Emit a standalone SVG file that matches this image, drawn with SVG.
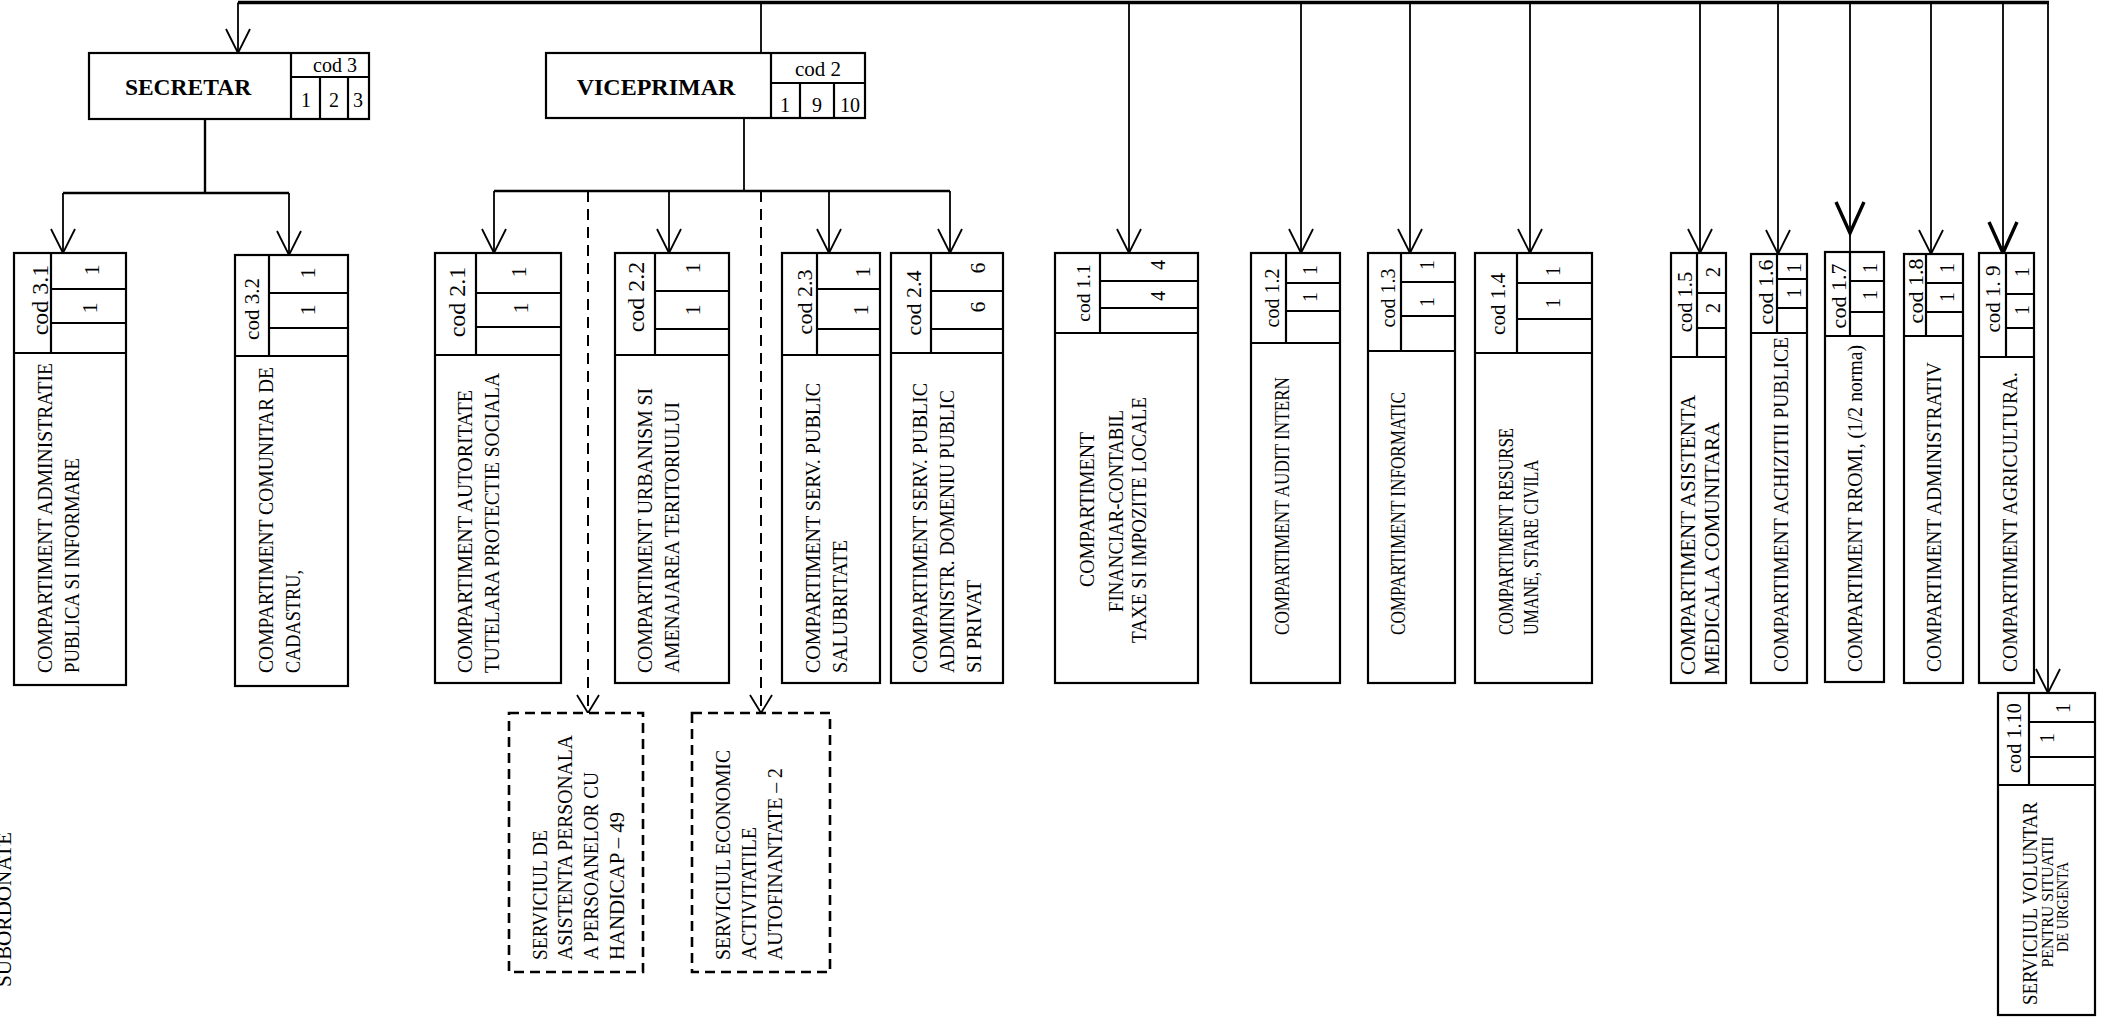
<svg xmlns="http://www.w3.org/2000/svg" width="2101" height="1033" viewBox="0 0 2101 1033">
<style>
.b{fill:#fff;stroke:#000;stroke-width:2.2}
.bd{fill:#fff;stroke:#000;stroke-width:2.6;stroke-dasharray:10 6}
.c{fill:none;stroke:#000;stroke-width:1.8}
.top{fill:none;stroke:#000;stroke-width:3.5}
.d{fill:none;stroke:#000;stroke-width:2;stroke-dasharray:11 7}
text{font-family:"Liberation Serif","Times New Roman",serif;fill:#000}
.t{font-size:21.5px}
.m{text-anchor:middle}
.h{font-weight:bold}
</style>
<defs>
<marker id="a" markerUnits="userSpaceOnUse" viewBox="-3 -3 30 30" markerWidth="30" markerHeight="30" refX="24" refY="12" orient="auto"><path d="M0,0 L24,12 L0,24" fill="none" stroke="#000" stroke-width="1.8"/></marker>
<marker id="ah" markerUnits="userSpaceOnUse" viewBox="-4 -4 40 36" markerWidth="40" markerHeight="36" refX="31" refY="14" orient="auto"><path d="M0,0 L31,14 L0,28" fill="none" stroke="#000" stroke-width="3.4"/></marker>
<marker id="ad" markerUnits="userSpaceOnUse" viewBox="-3 -3 24 28" markerWidth="24" markerHeight="28" refX="18" refY="11" orient="auto"><path d="M0,0 L18,11 L0,22" fill="none" stroke="#000" stroke-width="1.8"/></marker>
</defs>
<rect width="2101" height="1033" fill="#fff"/>

<g id="connectors">
<path class="top" d="M238,2.5 H2049"/>
<path class="c" d="M238,2.5 V53" marker-end="url(#a)"/>
<path class="c" d="M761,2.5 V53"/>
<path class="c" style="stroke-width:2.4" d="M205,119 V193"/>
<path class="c" style="stroke-width:2.4" d="M63,193 H289"/>
<path class="c" d="M63,193 V253" marker-end="url(#a)"/>
<path class="c" d="M289,193 V255" marker-end="url(#a)"/>
<path class="c" d="M744,118 V191"/>
<path class="c" style="stroke-width:2.4" d="M494,191 H950"/>
<path class="c" d="M494,191 V253" marker-end="url(#a)"/>
<path class="c" d="M669,191 V253" marker-end="url(#a)"/>
<path class="c" d="M829,191 V253" marker-end="url(#a)"/>
<path class="c" d="M950,191 V253" marker-end="url(#a)"/>
<path class="d" d="M588,191 V713" marker-end="url(#ad)"/>
<path class="d" d="M761,191 V713" marker-end="url(#ad)"/>
<path class="c" d="M1129,2.5 V253" marker-end="url(#a)"/>
<path class="c" d="M1301,2.5 V253" marker-end="url(#a)"/>
<path class="c" d="M1410,2.5 V253" marker-end="url(#a)"/>
<path class="c" d="M1530,2.5 V253" marker-end="url(#a)"/>
<path class="c" d="M1700,2.5 V253" marker-end="url(#a)"/>
<path class="c" d="M1778,2.5 V254" marker-end="url(#a)"/>
<path class="c" d="M1850,2.5 V233" marker-end="url(#ah)"/>
<path class="c" d="M1850,233 V252"/>
<path class="c" d="M1931,2.5 V254" marker-end="url(#a)"/>
<path class="c" d="M2003,2.5 V253" marker-end="url(#ah)"/>
<path class="c" d="M2048,2.5 V693" marker-end="url(#a)"/>
</g>

<g id="secretar">
<rect class="b" x="89" y="53" width="280" height="66"/>
<path class="b" d="M291,53 V119 M291,77 H369 M320,77 V119 M348,77 V119"/>
<text class="h m" x="188" y="95" font-size="23.5">SECRETAR</text>
<text class="m" x="335" y="72" font-size="20">cod 3</text>
<text class="m" x="306" y="107" font-size="20">1</text>
<text class="m" x="334" y="107" font-size="20">2</text>
<text class="m" x="358" y="107" font-size="20">3</text>
</g>

<g id="viceprimar">
<rect class="b" x="546" y="53" width="319" height="65"/>
<path class="b" d="M771,53 V118 M771,83 H865 M800,83 V118 M834,83 V118"/>
<text class="h m" x="656" y="95" font-size="24">VICEPRIMAR</text>
<text class="m" x="818" y="76" font-size="21">cod 2</text>
<text class="m" x="785" y="112" font-size="20">1</text>
<text class="m" x="817" y="112" font-size="20">9</text>
<text class="m" x="850" y="112" font-size="20">10</text>
</g>

<g id="cod-3-1">
<rect class="b" x="14" y="253" width="112" height="432"/>
<path class="b" d="M14,353 H126 M51,253 V353 M51,289 H126 M51,323 H126"/>
<text class="m" font-size="24" transform="translate(48,300) rotate(-90)">cod 3.1</text>
<text class="m" font-size="22" transform="translate(99.4,270) rotate(-90)">1</text>
<text class="m" font-size="22" transform="translate(97.4,308) rotate(-90)">1</text>
<text class="t" textLength="310" lengthAdjust="spacingAndGlyphs" transform="translate(52,673) rotate(-90)">COMPARTIMENT  ADMINISTRATIE</text>
<text class="t" textLength="215" lengthAdjust="spacingAndGlyphs" transform="translate(79,673) rotate(-90)">PUBLICA SI INFORMARE</text>
</g>

<g id="cod-3-2">
<rect class="b" x="235" y="255" width="113" height="431"/>
<path class="b" d="M235,356 H348 M269,255 V356 M269,293 H348 M269,328 H348"/>
<text class="m" font-size="21" transform="translate(259,309) rotate(-90)">cod 3.2</text>
<text class="m" font-size="22" transform="translate(315.4,273) rotate(-90)">1</text>
<text class="m" font-size="22" transform="translate(315.4,310) rotate(-90)">1</text>
<text class="t" textLength="306" lengthAdjust="spacingAndGlyphs" transform="translate(273,673) rotate(-90)">COMPARTIMENT COMUNITAR DE</text>
<text class="t" textLength="103" lengthAdjust="spacingAndGlyphs" transform="translate(300,673) rotate(-90)">CADASTRU,</text>
</g>

<g id="cod-2-1">
<rect class="b" x="435" y="253" width="126" height="430"/>
<path class="b" d="M435,355 H561 M476,253 V355 M476,293 H561 M476,327 H561"/>
<text class="m" font-size="24" transform="translate(465,302) rotate(-90)">cod 2.1</text>
<text class="m" font-size="22" transform="translate(526.4,272) rotate(-90)">1</text>
<text class="m" font-size="22" transform="translate(528.4,308) rotate(-90)">1</text>
<text class="t" textLength="283" lengthAdjust="spacingAndGlyphs" transform="translate(472,673) rotate(-90)">COMPARTIMENT  AUTORITATE</text>
<text class="t" textLength="300" lengthAdjust="spacingAndGlyphs" transform="translate(499,673) rotate(-90)">TUTELARA PROTECTIE SOCIALA</text>
</g>

<g id="cod-2-2">
<rect class="b" x="615" y="253" width="114" height="430"/>
<path class="b" d="M615,355 H729 M655,253 V355 M655,291 H729 M655,329 H729"/>
<text class="m" font-size="24" transform="translate(644,297) rotate(-90)">cod 2.2</text>
<text class="m" font-size="22" transform="translate(700.4,268) rotate(-90)">1</text>
<text class="m" font-size="22" transform="translate(700.4,310) rotate(-90)">1</text>
<text class="t" textLength="285" lengthAdjust="spacingAndGlyphs" transform="translate(652,673) rotate(-90)">COMPARTIMENT URBANISM SI</text>
<text class="t" textLength="271" lengthAdjust="spacingAndGlyphs" transform="translate(679,673) rotate(-90)">AMENAJAREA TERITORIULUI</text>
</g>

<g id="cod-2-3">
<rect class="b" x="782" y="253" width="98" height="430"/>
<path class="b" d="M782,355 H880 M817,253 V355 M817,289 H880 M817,329 H880"/>
<text class="m" font-size="22" transform="translate(811.5,302) rotate(-90)">cod 2.3</text>
<text class="m" font-size="22" transform="translate(870.4,272) rotate(-90)">1</text>
<text class="m" font-size="22" transform="translate(868.4,310) rotate(-90)">1</text>
<text class="t" textLength="290" lengthAdjust="spacingAndGlyphs" transform="translate(820,673) rotate(-90)">COMPARTIMENT SERV. PUBLIC</text>
<text class="t" textLength="133" lengthAdjust="spacingAndGlyphs" transform="translate(847,673) rotate(-90)">SALUBRITATE</text>
</g>

<g id="cod-2-4">
<rect class="b" x="891" y="253" width="112" height="430"/>
<path class="b" d="M891,353 H1003 M931,253 V353 M931,291 H1003 M931,329 H1003"/>
<text class="m" font-size="22" transform="translate(920.5,303) rotate(-90)">cod 2.4</text>
<text class="m" font-size="22" transform="translate(985.4,268) rotate(-90)">6</text>
<text class="m" font-size="22" transform="translate(985.4,307) rotate(-90)">6</text>
<text class="t" textLength="290" lengthAdjust="spacingAndGlyphs" transform="translate(927,673) rotate(-90)">COMPARTIMENT SERV. PUBLIC</text>
<text class="t" textLength="283" lengthAdjust="spacingAndGlyphs" transform="translate(954,673) rotate(-90)">ADMINISTR. DOMENIU PUBLIC</text>
<text class="t" textLength="93" lengthAdjust="spacingAndGlyphs" transform="translate(981,673) rotate(-90)">SI PRIVAT</text>
</g>

<g id="cod-1-1">
<rect class="b" x="1055" y="253" width="143" height="430"/>
<path class="b" d="M1055,333 H1198 M1100,253 V333 M1100,281 H1198 M1100,308 H1198"/>
<text class="m" font-size="19.5" transform="translate(1089.6,293) rotate(-90)">cod 1.1</text>
<text class="m" font-size="20" transform="translate(1164.8,265) rotate(-90)">4</text>
<text class="m" font-size="20" transform="translate(1164.8,296) rotate(-90)">4</text>
<text class="t m" textLength="155" lengthAdjust="spacingAndGlyphs" transform="translate(1094,509.5) rotate(-90)">COMPARTIMENT</text>
<text class="t m" textLength="202" lengthAdjust="spacingAndGlyphs" transform="translate(1123,511) rotate(-90)">FINANCIAR-CONTABIL</text>
<text class="t m" textLength="246" lengthAdjust="spacingAndGlyphs" transform="translate(1146,520) rotate(-90)">TAXE SI IMPOZITE  LOCALE</text>
</g>

<g id="cod-1-2">
<rect class="b" x="1251" y="253" width="89" height="430"/>
<path class="b" d="M1251,343 H1340 M1286,253 V343 M1286,283 H1340 M1286,311 H1340"/>
<text class="m" font-size="20" transform="translate(1278.8,298) rotate(-90)">cod 1.2</text>
<text class="m" font-size="20" transform="translate(1316.8,270) rotate(-90)">1</text>
<text class="m" font-size="20" transform="translate(1316.8,297) rotate(-90)">1</text>
<text class="t" textLength="258" lengthAdjust="spacingAndGlyphs" transform="translate(1289,635) rotate(-90)">COMPARTIMENT  AUDIT INTERN</text>
</g>

<g id="cod-1-3">
<rect class="b" x="1368" y="253" width="87" height="430"/>
<path class="b" d="M1368,351 H1455 M1401,253 V351 M1401,282 H1455 M1401,316 H1455"/>
<text class="m" font-size="20" transform="translate(1394.8,298) rotate(-90)">cod 1.3</text>
<text class="m" font-size="20" transform="translate(1433.8,265) rotate(-90)">1</text>
<text class="m" font-size="20" transform="translate(1433.8,302) rotate(-90)">1</text>
<text class="t" textLength="243" lengthAdjust="spacingAndGlyphs" transform="translate(1405,635) rotate(-90)">COMPARTIMENT  INFORMATIC</text>
</g>

<g id="cod-1-4">
<rect class="b" x="1475" y="253" width="117" height="430"/>
<path class="b" d="M1475,353 H1592 M1517,253 V353 M1517,283 H1592 M1517,319 H1592"/>
<text class="m" font-size="21" transform="translate(1505,304) rotate(-90)">cod 1.4</text>
<text class="m" font-size="20" transform="translate(1559.8,271) rotate(-90)">1</text>
<text class="m" font-size="20" transform="translate(1559.8,303) rotate(-90)">1</text>
<text class="t" textLength="207" lengthAdjust="spacingAndGlyphs" transform="translate(1513,635) rotate(-90)">COMPARTIMENT RESURSE</text>
<text class="t" textLength="175" lengthAdjust="spacingAndGlyphs" transform="translate(1538,635) rotate(-90)">UMANE, STARE CIVILA</text>
</g>

<g id="cod-1-5">
<rect class="b" x="1671" y="253" width="55" height="430"/>
<path class="b" d="M1671,357 H1726 M1697,253 V357 M1697,293 H1726 M1697,328 H1726"/>
<text class="m" font-size="20.5" transform="translate(1692,302) rotate(-90)">cod 1.5</text>
<text class="m" font-size="20" transform="translate(1719.8,272) rotate(-90)">2</text>
<text class="m" font-size="20" transform="translate(1719.8,308) rotate(-90)">2</text>
<text class="t" textLength="280" lengthAdjust="spacingAndGlyphs" transform="translate(1695,675) rotate(-90)">COMPARTIMENT ASISTENTA</text>
<text class="t" textLength="253" lengthAdjust="spacingAndGlyphs" transform="translate(1719,675) rotate(-90)">MEDICALA COMUNITARA</text>
</g>

<g id="cod-1-6">
<rect class="b" x="1751" y="254" width="56" height="429"/>
<path class="b" d="M1751,333 H1807 M1777,254 V333 M1777,279 H1807 M1777,308 H1807"/>
<text class="m" font-size="22" transform="translate(1772.5,292) rotate(-90)">cod 1.6</text>
<text class="m" font-size="20" transform="translate(1800.8,268) rotate(-90)">1</text>
<text class="m" font-size="20" transform="translate(1800.8,293) rotate(-90)">1</text>
<text class="t" textLength="335" lengthAdjust="spacingAndGlyphs" transform="translate(1788,672) rotate(-90)">COMPARTIMENT  ACHIZITII PUBLICE</text>
</g>

<g id="cod-1-7">
<rect class="b" x="1825" y="252" width="59" height="430"/>
<path class="b" d="M1825,336 H1884 M1850,252 V336 M1850,281 H1884 M1850,312 H1884"/>
<text class="m" font-size="22" transform="translate(1845.5,296) rotate(-90)">cod 1.7</text>
<text class="m" font-size="20" transform="translate(1876.8,268) rotate(-90)">1</text>
<text class="m" font-size="20" transform="translate(1876.8,295) rotate(-90)">1</text>
<text class="t" textLength="327" lengthAdjust="spacingAndGlyphs" transform="translate(1862,672) rotate(-90)">COMPARTIMENT RROMI, (1/2 norma)</text>
</g>

<g id="cod-1-8">
<rect class="b" x="1904" y="254" width="59" height="429"/>
<path class="b" d="M1904,336 H1963 M1926,254 V336 M1926,283 H1963 M1926,312 H1963"/>
<text class="m" font-size="22" transform="translate(1922.5,291) rotate(-90)">cod 1.8</text>
<text class="m" font-size="20" transform="translate(1953.8,268) rotate(-90)">1</text>
<text class="m" font-size="20" transform="translate(1953.8,297) rotate(-90)">1</text>
<text class="t" textLength="310" lengthAdjust="spacingAndGlyphs" transform="translate(1941,672) rotate(-90)">COMPARTIMENT  ADMINISTRATIV</text>
</g>

<g id="cod-1-9">
<rect class="b" x="1979" y="253" width="55" height="430"/>
<path class="b" d="M1979,357 H2034 M2006,253 V357 M2006,294 H2034 M2006,328 H2034"/>
<text class="m" font-size="21" transform="translate(2000,299) rotate(-90)">cod 1. 9</text>
<text class="m" font-size="20" transform="translate(2028.8,272) rotate(-90)">1</text>
<text class="m" font-size="20" transform="translate(2028.8,310) rotate(-90)">1</text>
<text class="t" textLength="300" lengthAdjust="spacingAndGlyphs" transform="translate(2017,672) rotate(-90)">COMPARTIMENT  AGRICULTURA.</text>
</g>

<g id="cod-1-10">
<rect class="b" x="1998" y="693" width="97" height="322"/>
<path class="b" d="M1998,785 H2095 M2029,693 V785 M2029,722 H2095 M2029,757 H2095"/>
<text class="m" font-size="20.3" transform="translate(2021,738) rotate(-90)">cod 1.10</text>
<text class="m" font-size="20" transform="translate(2069.8,708) rotate(-90)">1</text>
<text class="m" font-size="20" transform="translate(2053.8,738) rotate(-90)">1</text>
<text class="t" textLength="203" lengthAdjust="spacingAndGlyphs" transform="translate(2037,1005) rotate(-90)">SERVICIUL  VOLUNTAR</text>
<text class="m" font-size="16.5" textLength="131" lengthAdjust="spacingAndGlyphs" transform="translate(2052.5,902) rotate(-90)">PENTRU SITUATII</text>
<text class="m" font-size="16.5" textLength="90" lengthAdjust="spacingAndGlyphs" transform="translate(2067.5,907) rotate(-90)">DE URGENTA</text>
</g>

<g id="serviciu-asistenta">
<rect class="bd" x="509" y="713" width="134" height="259"/>
<text class="t" textLength="130" lengthAdjust="spacingAndGlyphs" transform="translate(547,960) rotate(-90)">SERVICIUL DE</text>
<text class="t" textLength="225" lengthAdjust="spacingAndGlyphs" transform="translate(572,960) rotate(-90)">ASISTENTA PERSONALA</text>
<text class="t" textLength="188" lengthAdjust="spacingAndGlyphs" transform="translate(598,960) rotate(-90)">A PERSOANELOR CU</text>
<text class="t" textLength="148" lengthAdjust="spacingAndGlyphs" transform="translate(624,960) rotate(-90)">HANDICAP –  49</text>
</g>

<g id="serviciu-economic">
<rect class="bd" x="692" y="713" width="138" height="259"/>
<text class="t" textLength="210" lengthAdjust="spacingAndGlyphs" transform="translate(730,960) rotate(-90)">SERVICIUL ECONOMIC</text>
<text class="t" textLength="133" lengthAdjust="spacingAndGlyphs" transform="translate(756,960) rotate(-90)">ACTIVITATILE</text>
<text class="t" textLength="192" lengthAdjust="spacingAndGlyphs" transform="translate(782,960) rotate(-90)">AUTOFINANTATE – 2</text>
</g>

<g id="subordonate">
<text class="t" textLength="155" lengthAdjust="spacingAndGlyphs" transform="translate(11,987) rotate(-90)">SUBORDONATE</text>
</g>
</svg>
